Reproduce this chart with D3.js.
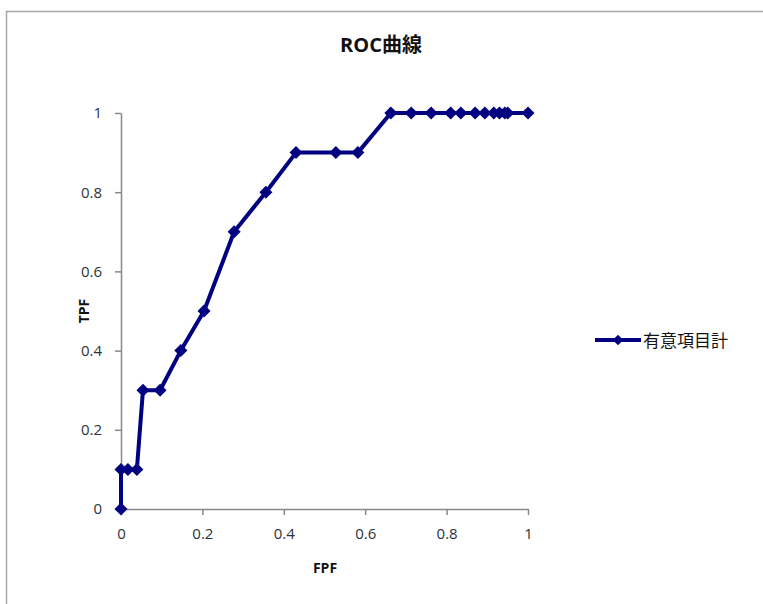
<!DOCTYPE html>
<html>
<head>
<meta charset="utf-8">
<script src="https://cdn.jsdelivr.net/npm/d3@7"></script>
<style>
  body { margin: 0; background: #fff; }
  svg { display: block; }
  text { font-family: "Open Sans", "Noto Sans CJK JP", sans-serif; }
</style>
</head>
<body>
<svg id="chart" width="763" height="604"></svg>
<script>
const seriesName = "有意項目計";
const fpf = [0, 0, 0.017, 0.039, 0.054, 0.096, 0.147, 0.204, 0.278, 0.356, 0.43, 0.528, 0.582,
             0.663, 0.713, 0.762, 0.81, 0.835, 0.87, 0.894, 0.916, 0.93, 0.943, 0.95, 1.0];
const tpf = [0, 0.1, 0.1, 0.1, 0.3, 0.3, 0.4, 0.5, 0.7, 0.8, 0.9, 0.9, 0.9,
             1, 1, 1, 1, 1, 1, 1, 1, 1, 1, 1, 1];
const xTicks = [0, 0.2, 0.4, 0.6, 0.8, 1];
const yTicks = [0, 0.2, 0.4, 0.6, 0.8, 1];

const svg = d3.select("#chart");
const lineColor = "#000080";

// outer frame
svg.append("rect").attr("x", 6.5).attr("y", 11.5).attr("width", 800).attr("height", 700)
  .attr("fill", "none").attr("stroke", "#a6a6a6").attr("stroke-width", 1.5);

const x = d3.scaleLinear().domain([0, 1]).range([121, 528]);
const y = d3.scaleLinear().domain([0, 1]).range([509, 113]);

const fmt = d => d3.format("~g")(d);

const xAxis = svg.append("g").attr("transform", "translate(0,509)")
  .call(d3.axisBottom(x).tickValues(xTicks).tickFormat(fmt).tickSizeInner(6).tickSizeOuter(0).tickPadding(13));
const yAxis = svg.append("g").attr("transform", "translate(121,0)")
  .call(d3.axisLeft(y).tickValues(yTicks).tickFormat(fmt).tickSizeInner(6).tickSizeOuter(0).tickPadding(13));
[xAxis, yAxis].forEach(g => {
  g.select(".domain").attr("stroke", "#888").attr("stroke-width", 1.5);
  g.selectAll(".tick line").attr("stroke", "#888").attr("stroke-width", 1.5);
  g.selectAll(".tick text").attr("fill", "#2b3340").attr("font-size", 15)
    .style("font-family", "'Open Sans', sans-serif");
});

// title & axis labels
svg.append("text").attr("x", 381).attr("y", 52).attr("text-anchor", "middle")
  .attr("font-size", 20).attr("font-weight", "bold").attr("fill", "#111").text("ROC曲線");
svg.append("text").attr("x", 325).attr("y", 573).attr("text-anchor", "middle")
  .attr("font-size", 14).attr("font-weight", "bold").attr("fill", "#111").text("FPF");
svg.append("text").attr("transform", "translate(89,311) rotate(-90)").attr("text-anchor", "middle")
  .attr("font-size", 14).attr("font-weight", "bold").attr("fill", "#111").text("TPF");

// series
const pts = fpf.map((v, i) => [v, tpf[i]]);
svg.append("path").datum(pts)
  .attr("d", d3.line().x(d => x(d[0])).y(d => y(d[1])))
  .attr("fill", "none").attr("stroke", lineColor).attr("stroke-width", 4)
  .attr("stroke-linejoin", "round");
svg.append("g").selectAll("path").data(pts).join("path")
  .attr("transform", d => `translate(${x(d[0])},${y(d[1])}) rotate(45)`)
  .attr("d", d3.symbol().type(d3.symbolSquare).size(85))
  .attr("fill", lineColor);

// legend
const lg = svg.append("g").attr("transform", "translate(595,340)");
lg.append("line").attr("x1", 0).attr("x2", 46).attr("y1", 0).attr("y2", 0)
  .attr("stroke", lineColor).attr("stroke-width", 4);
lg.append("path").attr("transform", "translate(23,0) rotate(45)")
  .attr("d", d3.symbol().type(d3.symbolSquare).size(55)).attr("fill", lineColor);
lg.append("text").attr("x", 48).attr("y", 7).attr("font-size", 17).attr("fill", "#111")
  .style("font-family", "'Noto Sans CJK JP', sans-serif").text(seriesName);
</script>
</body>
</html>
